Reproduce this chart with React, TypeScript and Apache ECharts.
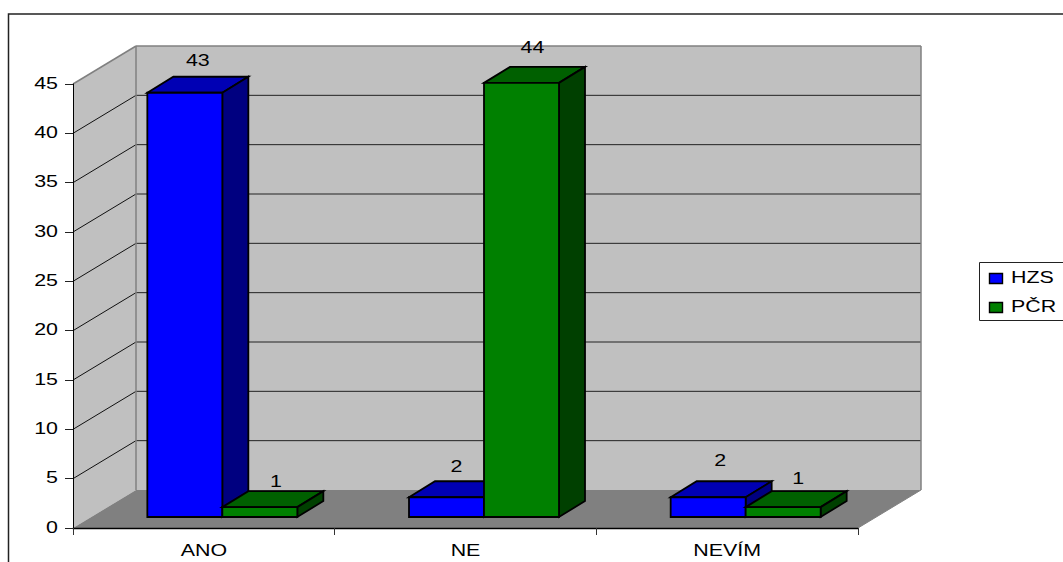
import React, { useEffect, useRef } from "react";
import * as echarts from "echarts";

const categories = ["ANO", "NE", "NEVÍM"];
const seriesNames = ["HZS", "PČR"];
const hzsValues = [43, 2, 2];
const pcrValues = [1, 44, 1];
const yTicks = [0, 5, 10, 15, 20, 25, 30, 35, 40, 45];

const FONT = "'Liberation Sans', Arial, sans-serif";
const FONT_SIZE = 17;
const TEXT_STRETCH = 1.26;

// Oblique projection of the 3D box: how far the back wall sits from the front plane.
const WALL_DX = 63;
const WALL_DY = -38;
// Bars stand a little behind the front plane and have a fixed depth.
const BAR_SHIFT_X = 18.5;
const BAR_SHIFT_Y = -11;
const BAR_DX = 26;
const BAR_DY = -16;
const BAR_BAND_SHARE = 75 / 261.67;

const palettes = [
  { front: "#0000ff", top: "#0000b4", side: "#000080" },
  { front: "#008000", top: "#006000", side: "#004000" },
];

// Hand placement of the data labels relative to the top of each bar: [series][category].
const labelNudge = [
  [[0, 0], [-3, 1], [-1, -5]],
  [[3, 6], [-2, -4], [2, 3]],
];

const stretchedText = (text: string, x: number, y: number, align: string) => ({
  type: "text",
  x,
  y,
  scaleX: TEXT_STRETCH,
  silent: true,
  style: {
    text,
    fill: "#000",
    fontFamily: FONT,
    fontSize: FONT_SIZE,
    align,
    verticalAlign: "middle",
  },
});

const line = (x1: number, y1: number, x2: number, y2: number, stroke: string, lineWidth = 1) => ({
  type: "line",
  silent: true,
  shape: { x1, y1, x2, y2 },
  style: { stroke, lineWidth },
});

const poly = (points: number[][], fill: string, stroke = "none", lineWidth = 0) => ({
  type: "polygon",
  silent: true,
  shape: { points },
  style: { fill, stroke, lineWidth, lineJoin: "miter" },
});

// Left and right edges of the plot, taken from the first category's band.
const plotEdges = (api: any) => {
  const band = api.size([1, 0])[0];
  const left = api.coord([0, 0])[0] - band / 2;
  return { left, right: left + band * categories.length };
};

const renderWalls = (_: any, api: any) => {
  const { left, right } = plotEdges(api);
  const bottom = api.coord([0, 0])[1];
  const top = api.coord([0, 45])[1];
  const bx = WALL_DX;
  const by = WALL_DY;
  const children: any[] = [
    poly([[left, top], [left + bx, top + by], [left + bx, bottom + by], [left, bottom]], "#c0c0c0"),
    poly([[left + bx, top + by], [right + bx, top + by], [right + bx, bottom + by], [left + bx, bottom + by]], "#c0c0c0"),
    poly([[left, bottom], [left + bx, bottom + by], [right + bx, bottom + by], [right, bottom]], "#808080"),
  ];
  yTicks.slice(1, -1).forEach((t) => {
    const y = api.coord([0, t])[1];
    children.push(line(left, y, left + bx, y + by, "#111"));
    children.push(line(left + bx, y + by, right + bx, y + by, "#222"));
  });
  children.push(line(left, top, left + bx, top + by, "#808080", 1.5));
  children.push(line(left + bx, top + by, right + bx, top + by, "#808080", 1.5));
  children.push(line(left + bx, top + by, left + bx, bottom + by, "#808080", 1.5));
  children.push(line(right + bx, top + by, right + bx, bottom + by, "#808080", 1.5));
  children.push(line(right, bottom, right + bx, bottom + by, "#808080", 1));
  return { type: "group", children };
};

const renderAxisTexts = (_: any, api: any) => {
  const { left } = plotEdges(api);
  const children: any[] = [];
  yTicks.forEach((t) => {
    const y = api.coord([0, t])[1];
    children.push(stretchedText(String(t), left - 15, y - 1, "right"));
  });
  categories.forEach((c, i) => {
    const [x, y] = api.coord([i, 0]);
    children.push(stretchedText(c, x, y + 22, "center"));
  });
  return { type: "group", children };
};

const barRenderer = (seriesIndex: number) => (_: any, api: any) => {
  const cat = api.value(0);
  const value = api.value(1);
  const [cx, vy] = api.coord([cat, value]);
  const y0 = api.coord([cat, 0])[1] + BAR_SHIFT_Y;
  const y1 = vy + BAR_SHIFT_Y;
  const w = api.size([1, 0])[0] * BAR_BAND_SHARE;
  const x0 = cx + BAR_SHIFT_X + (seriesIndex - 1) * w;
  const x1 = x0 + w;
  const p = palettes[seriesIndex];
  const stroke = "#000";
  const lw = 1.8;
  const [nx, ny] = labelNudge[seriesIndex][cat];
  return {
    type: "group",
    children: [
      poly([[x0, y1], [x0 + BAR_DX, y1 + BAR_DY], [x1 + BAR_DX, y1 + BAR_DY], [x1, y1]], p.top, stroke, lw),
      poly([[x1, y1], [x1 + BAR_DX, y1 + BAR_DY], [x1 + BAR_DX, y0 + BAR_DY], [x1, y0]], p.side, stroke, lw),
      poly([[x0, y1], [x1, y1], [x1, y0], [x0, y0]], p.front, stroke, lw),
      stretchedText(String(value), (x0 + x1) / 2 + BAR_DX / 2 + nx, y1 + BAR_DY - 16 + ny, "center"),
    ],
  };
};

const legendGraphics = () => {
  const swatchTops = [273, 302];
  const children: any[] = [
    {
      type: "rect",
      silent: true,
      shape: { x: 979.5, y: 262.5, width: 120, height: 58 },
      style: { fill: "#fff", stroke: "#222", lineWidth: 1 },
    },
  ];
  seriesNames.forEach((name, i) => {
    children.push({
      type: "rect",
      silent: true,
      shape: { x: 989.5, y: swatchTops[i] + 0.5, width: 13, height: 10 },
      style: { fill: palettes[i].front, stroke: "#000", lineWidth: 1.4 },
    });
    children.push(stretchedText(name, 1011, swatchTops[i] + 4.5, "left"));
  });
  return children;
};

export default function App() {
  const ref = useRef<HTMLDivElement>(null);

  useEffect(() => {
    const chart = echarts.init(ref.current!, undefined, { renderer: "svg" });
    chart.setOption({
      animation: false,
      backgroundColor: "#fff",
      graphic: [
        {
          type: "rect",
          silent: true,
          z: 0,
          shape: { x: 8.5, y: 14, width: 1100, height: 600 },
          style: { fill: "#fff", stroke: "#222", lineWidth: 1.5 },
        },
        { type: "group", z: 1, children: legendGraphics() },
      ],
      grid: { left: 73, top: 84, width: 785, height: 444, containLabel: false },
      xAxis: {
        type: "category",
        data: categories,
        z: 6,
        axisLine: { show: true, lineStyle: { color: "#000", width: 1.3 } },
        axisTick: { show: true, alignWithLabel: false, interval: 0, length: 7, lineStyle: { color: "#333", width: 1 } },
        axisLabel: { show: false },
        splitLine: { show: false },
      },
      yAxis: {
        type: "value",
        min: 0,
        max: 45,
        interval: 5,
        z: 6,
        axisLine: { show: true, lineStyle: { color: "#000", width: 1 } },
        axisTick: { show: true, length: 8, lineStyle: { color: "#222", width: 1 } },
        axisLabel: { show: false },
        splitLine: { show: false },
      },
      series: [
        { type: "custom", name: "walls", data: [[0, 0]], z: 2, silent: true, renderItem: renderWalls },
        { type: "custom", name: "axis texts", data: [[0, 0]], z: 3, silent: true, renderItem: renderAxisTexts },
        {
          type: "custom",
          name: seriesNames[0],
          z: 4,
          silent: true,
          data: hzsValues.map((v, i) => [i, v]),
          encode: { x: 0, y: 1 },
          renderItem: barRenderer(0),
        },
        {
          type: "custom",
          name: seriesNames[1],
          z: 5,
          silent: true,
          data: pcrValues.map((v, i) => [i, v]),
          encode: { x: 0, y: 1 },
          renderItem: barRenderer(1),
        },
      ],
    });
    return () => chart.dispose();
  }, []);

  return (
    <div
      ref={ref}
      style={{ position: "fixed", left: 0, top: 0, width: 1063, height: 562, overflow: "hidden" }}
    />
  );
}
